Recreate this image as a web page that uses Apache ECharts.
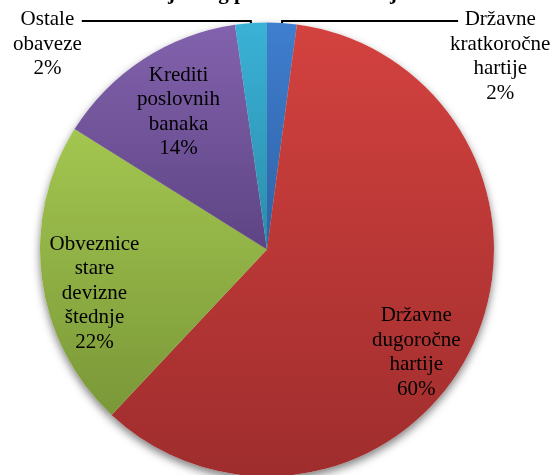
<!DOCTYPE html>
<html>
<head>
<meta charset="utf-8">
<script src="https://cdn.jsdelivr.net/npm/echarts@6/dist/echarts.min.js"></script>
<style>
html, body { margin: 0; padding: 0; background: #fff; }
#main { width: 560px; height: 475px; }
</style>
</head>
<body>
<div id="main"></div>
<script>
// podaci sa slike
var names = ['Državne kratkoročne hartije', 'Državne dugoročne hartije', 'Obveznice stare devizne štednje', 'Krediti poslovnih banaka', 'Ostale obaveze'];
var values = [2.1, 59.9, 21.9, 13.85, 2.25];

// boje (gore svetlije, dole tamnije)
var topColors = ['#3f7ecf', '#d3423f', '#a3c650', '#8262ad', '#3ab2d6'];
var bottomColors = ['#2f62a6', '#9f2d2d', '#7a9838', '#5e4484', '#2c8caa'];

// pomeranje unutrasnjih natpisa
var labelNudge = [null, [44, 53], [-57, 29], [-25, -40], null];

var myChart = echarts.init(document.getElementById('main'));
var fontFamily = 'Liberation Serif';
var leaderStyle = { color: '#000', width: 2 };

var pieData = [];
var shadowData = [];
for (var i = 0; i < values.length; i++) {
    var item = {
        name: names[i],
        value: values[i],
        itemStyle: {
            color: new echarts.graphic.LinearGradient(0, 0, 0, 1, [
                { offset: 0, color: topColors[i] },
                { offset: 1, color: bottomColors[i] }
            ])
        }
    };
    // mali isecci imaju natpis spolja sa linijom
    if (i === 0) {
        item.label = { position: 'outside', padding: [71, 0, 0, 0], distanceToLabelLine: -8 };
        item.labelLine = { show: true, length: 2, length2: 176, lineStyle: leaderStyle };
    }
    if (i === 4) {
        item.label = { position: 'outside', padding: [46, 0, 0, 0], distanceToLabelLine: 0 };
        item.labelLine = { show: true, length: 2, length2: 169, lineStyle: leaderStyle };
    }
    pieData.push(item);
    shadowData.push({ name: names[i], value: values[i] });
}

let option = {
    backgroundColor: '#fff',
    animation: false,
    title: {
        text: 'Struktura javnog preduzeća na kraju 2012.',
        left: 73,
        top: -18,
        padding: 0,
        textStyle: {
            fontFamily: fontFamily,
            fontSize: 21,
            fontWeight: 'bold',
            color: '#000',
            lineHeight: 24
        }
    },
    series: [
        {
            // senka ispod pite
            type: 'pie',
            silent: true,
            center: [267, 249.5],
            radius: 227,
            startAngle: 90,
            label: { show: false },
            labelLine: { show: false },
            itemStyle: {
                color: '#fff',
                shadowBlur: 8,
                shadowOffsetY: 4,
                shadowColor: 'rgba(0,0,0,0.5)'
            },
            data: shadowData
        },
        {
            type: 'pie',
            center: [267, 249.5],
            radius: 227,
            startAngle: 90,
            avoidLabelOverlap: false,
            label: {
                show: true,
                position: 'inside',
                color: '#000',
                fontFamily: fontFamily,
                fontSize: 21,
                lineHeight: 24.5,
                formatter: function (params) {
                    var lines = params.name.split(' ');
                    lines.push(Math.round(params.percent) + '%');
                    return lines.map(function (s) { return '{c|' + s + '}'; }).join('\n');
                },
                rich: {
                    c: {
                        align: 'center',
                        color: '#000',
                        fontFamily: fontFamily,
                        fontSize: 21,
                        lineHeight: 24.5
                    }
                }
            },
            labelLine: {
                show: false,
                lineStyle: leaderStyle
            },
            labelLayout: function (params) {
                var n = labelNudge[params.dataIndex];
                if (!n) return {};
                return { dx: n[0], dy: n[1] };
            },
            data: pieData
        }
    ]
};
myChart.setOption(option);
</script>
</body>
</html>
